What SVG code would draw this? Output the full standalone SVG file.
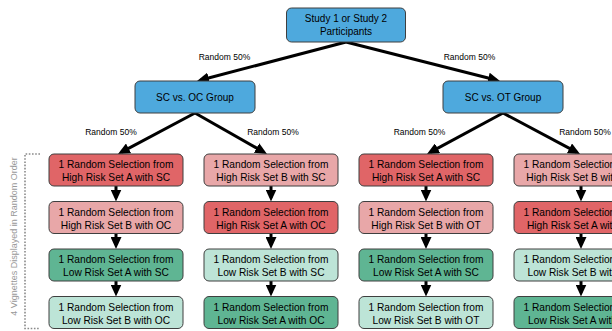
<svg xmlns="http://www.w3.org/2000/svg" width="612" height="331" viewBox="0 0 612 331">
<style>
text{font-family:"Liberation Sans",Arial,sans-serif;fill:#000;text-anchor:middle}
.box{stroke:#3f3f3f;stroke-width:1}
.blue{fill:#4ea9dd}
.dr{fill:#e06567}
.lr{fill:#e8a7a8}
.dg{fill:#5fb593}
.lg{fill:#bde4d7}
.t{font-size:10.2px}
.g{font-size:10px}
.lab{font-size:8.5px}
.arr{stroke:#000;stroke-width:3;fill:none;marker-end:url(#ah)}
.dot{stroke:#8a8a8a;stroke-width:1.6;stroke-dasharray:1.6 1.6;fill:none}
</style>
<defs>
<marker id="ah" markerUnits="userSpaceOnUse" markerWidth="12" markerHeight="11" refX="8" refY="5.5" orient="auto">
<path d="M0,0 L12,5.5 L0,11 z" fill="#000"/>
</marker>
</defs>
<rect width="612" height="331" fill="#fff"/>

<g id="connectors">
<line class="arr" x1="346" y1="42" x2="200.9" y2="80"/>
<line class="arr" x1="346" y1="42" x2="496.1" y2="80"/>
<line class="arr" x1="195" y1="113" x2="121.5" y2="152.1"/>
<line class="arr" x1="195" y1="113" x2="263.5" y2="152"/>
<line class="arr" x1="503" y1="113" x2="430.5" y2="152.1"/>
<line class="arr" x1="503" y1="113" x2="576.5" y2="152.1"/>
<g>
<line class="arr" x1="116" y1="186" x2="116" y2="197.5"/>
<line class="arr" x1="116" y1="233.5" x2="116" y2="245"/>
<line class="arr" x1="116" y1="281" x2="116" y2="292.5"/>
<line class="arr" x1="271" y1="186" x2="271" y2="197.5"/>
<line class="arr" x1="271" y1="233.5" x2="271" y2="245"/>
<line class="arr" x1="271" y1="281" x2="271" y2="292.5"/>
<line class="arr" x1="426" y1="186" x2="426" y2="197.5"/>
<line class="arr" x1="426" y1="233.5" x2="426" y2="245"/>
<line class="arr" x1="426" y1="281" x2="426" y2="292.5"/>
<line class="arr" x1="581" y1="186" x2="581" y2="197.5"/>
<line class="arr" x1="581" y1="233.5" x2="581" y2="245"/>
<line class="arr" x1="581" y1="281" x2="581" y2="292.5"/>
</g>
<text class="lab" x="224.5" y="60">Random 50%</text>
<text class="lab" x="469.5" y="60">Random 50%</text>
<text class="lab" x="111" y="135">Random 50%</text>
<text class="lab" x="273" y="135">Random 50%</text>
<text class="lab" x="419.5" y="135">Random 50%</text>
<text class="lab" x="585" y="135">Random 50%</text>
</g>

<g id="bracket">
<path class="dot" d="M40,154 H25 V328.5 H40"/>
<text x="0" y="0" transform="translate(17,236.5) rotate(-90)" style="font-size:9px;fill:#999">4 Vignettes Displayed in Random Order</text>
</g>

<g id="root">
<rect class="box blue" x="286.5" y="8" width="119" height="34" rx="5"/>
<text class="g" x="346" y="22">Study 1 or Study 2</text>
<text class="g" x="346" y="35">Participants</text>
</g>
<g id="grp-oc">
<rect class="box blue" x="135" y="81" width="120" height="32" rx="5"/>
<text class="g" x="195" y="100.5">SC vs. OC Group</text>
</g>
<g id="grp-ot">
<rect class="box blue" x="443" y="81" width="120" height="32" rx="5"/>
<text class="g" x="503" y="100.5">SC vs. OT Group</text>
</g>

<g id="c1r1"><rect class="box dr" x="49" y="154" width="134" height="32" rx="5"/><text class="t" x="116" y="168">1 Random Selection from</text><text class="t" x="116" y="181">High Risk Set A with SC</text></g>
<g id="c1r2"><rect class="box lr" x="49" y="201.5" width="134" height="32" rx="5"/><text class="t" x="116" y="215.5">1 Random Selection from</text><text class="t" x="116" y="228.5">High Risk Set B with OC</text></g>
<g id="c1r3"><rect class="box dg" x="49" y="249" width="134" height="32" rx="5"/><text class="t" x="116" y="263">1 Random Selection from</text><text class="t" x="116" y="276">Low Risk Set A with SC</text></g>
<g id="c1r4"><rect class="box lg" x="49" y="296.5" width="134" height="32" rx="5"/><text class="t" x="116" y="310.5">1 Random Selection from</text><text class="t" x="116" y="323.5">Low Risk Set B with OC</text></g>

<g id="c2r1"><rect class="box lr" x="204" y="154" width="134" height="32" rx="5"/><text class="t" x="271" y="168">1 Random Selection from</text><text class="t" x="271" y="181">High Risk Set B with SC</text></g>
<g id="c2r2"><rect class="box dr" x="204" y="201.5" width="134" height="32" rx="5"/><text class="t" x="271" y="215.5">1 Random Selection from</text><text class="t" x="271" y="228.5">High Risk Set A with OC</text></g>
<g id="c2r3"><rect class="box lg" x="204" y="249" width="134" height="32" rx="5"/><text class="t" x="271" y="263">1 Random Selection from</text><text class="t" x="271" y="276">Low Risk Set B with SC</text></g>
<g id="c2r4"><rect class="box dg" x="204" y="296.5" width="134" height="32" rx="5"/><text class="t" x="271" y="310.5">1 Random Selection from</text><text class="t" x="271" y="323.5">Low Risk Set A with OC</text></g>

<g id="c3r1"><rect class="box dr" x="359" y="154" width="134" height="32" rx="5"/><text class="t" x="426" y="168">1 Random Selection from</text><text class="t" x="426" y="181">High Risk Set A with SC</text></g>
<g id="c3r2"><rect class="box lr" x="359" y="201.5" width="134" height="32" rx="5"/><text class="t" x="426" y="215.5">1 Random Selection from</text><text class="t" x="426" y="228.5">High Risk Set B with OT</text></g>
<g id="c3r3"><rect class="box dg" x="359" y="249" width="134" height="32" rx="5"/><text class="t" x="426" y="263">1 Random Selection from</text><text class="t" x="426" y="276">Low Risk Set A with SC</text></g>
<g id="c3r4"><rect class="box lg" x="359" y="296.5" width="134" height="32" rx="5"/><text class="t" x="426" y="310.5">1 Random Selection from</text><text class="t" x="426" y="323.5">Low Risk Set B with OT</text></g>

<g id="c4r1"><rect class="box lr" x="514" y="154" width="134" height="32" rx="5"/><text class="t" x="581" y="168">1 Random Selection from</text><text class="t" x="581" y="181">High Risk Set B with SC</text></g>
<g id="c4r2"><rect class="box dr" x="514" y="201.5" width="134" height="32" rx="5"/><text class="t" x="581" y="215.5">1 Random Selection from</text><text class="t" x="581" y="228.5">High Risk Set A with OT</text></g>
<g id="c4r3"><rect class="box lg" x="514" y="249" width="134" height="32" rx="5"/><text class="t" x="581" y="263">1 Random Selection from</text><text class="t" x="581" y="276">Low Risk Set B with SC</text></g>
<g id="c4r4"><rect class="box dg" x="514" y="296.5" width="134" height="32" rx="5"/><text class="t" x="581" y="310.5">1 Random Selection from</text><text class="t" x="581" y="323.5">Low Risk Set A with OT</text></g>
</svg>
